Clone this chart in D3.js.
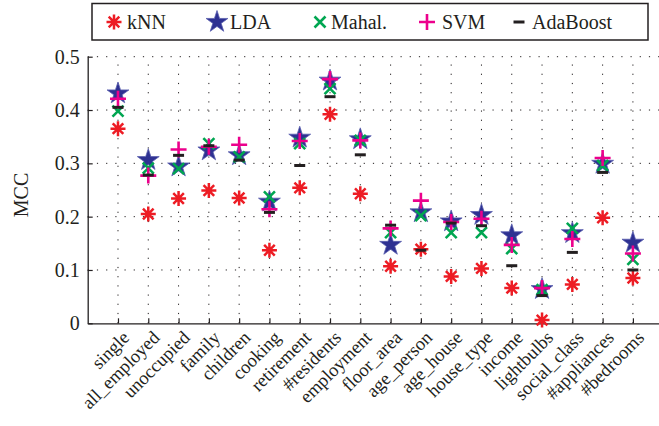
<!DOCTYPE html>
<html>
<head>
<meta charset="utf-8">
<script src="https://cdn.jsdelivr.net/npm/d3@7"></script>
<style>
  html, body { margin: 0; padding: 0; background: #fff; }
  svg { display: block; }
  text { font-family: "Liberation Serif", "Times New Roman", serif; fill: #231f20; }
</style>
</head>
<body>
<svg id="chart" width="659" height="426"></svg>
<script>
// Feature groups evaluated by each classifier
const categories = ["single", "all_employed", "unoccupied", "family", "children", "cooking",
  "retirement", "#residents", "employment", "floor_area", "age_person", "age_house",
  "house_type", "income", "lightbulbs", "social_class", "#appliances", "#bedrooms"];

// MCC per classifier, one value per feature group
const knn      = [0.365, 0.205, 0.234, 0.249, 0.235, 0.137, 0.254, 0.392, 0.243, 0.107, 0.139, 0.088, 0.103, 0.066, 0.006, 0.073, 0.198, 0.085];
const lda      = [0.431, 0.306, 0.294, 0.324, 0.315, 0.228, 0.348, 0.455, 0.345, 0.147, 0.208, 0.191, 0.203, 0.165, 0.064, 0.169, 0.299, 0.151];
const mahal    = [0.398, 0.291, 0.290, 0.337, 0.312, 0.237, 0.337, 0.440, 0.343, 0.170, 0.202, 0.170, 0.170, 0.140, 0.063, 0.178, 0.296, 0.120];
const svm      = [0.421, 0.277, 0.326, 0.331, 0.335, 0.214, 0.342, 0.458, 0.343, 0.178, 0.230, 0.190, 0.196, 0.147, 0.066, 0.158, 0.310, 0.131];
const adaboost = [0.405, 0.278, 0.315, 0.333, 0.306, 0.208, 0.296, 0.425, 0.316, 0.184, 0.137, 0.188, 0.183, 0.108, 0.052, 0.133, 0.283, 0.100];

const yTicks = [0, 0.1, 0.2, 0.3, 0.4, 0.5];
const yLabel = "MCC";

const seriesNames = ["kNN", "LDA", "Mahal.", "SVM", "AdaBoost"];
const seriesValues = [knn, lda, mahal, svm, adaboost];

// Marker glyphs, drawn around the origin
const markers = {
  asterisk: { color: "#ed1c24", width: 2.5, fill: "none",
    path: r => { const p = d3.path(); const q = r * Math.SQRT1_2;
      p.moveTo(-r, 0); p.lineTo(r, 0); p.moveTo(0, -r); p.lineTo(0, r);
      p.moveTo(-q, -q); p.lineTo(q, q); p.moveTo(-q, q); p.lineTo(q, -q); return p.toString(); }, r: 7.5 },
  star: { color: "#5b5fae", width: 0.8, fill: "#2e3192",
    path: r => d3.symbol(d3.symbolStar, r * r / 0.8908130915292852)(), r: 11.5 },
  cross: { color: "#00a651", width: 2.6, fill: "none",
    path: r => { const p = d3.path(); p.moveTo(-r, -r); p.lineTo(r, r); p.moveTo(-r, r); p.lineTo(r, -r); return p.toString(); }, r: 5.5 },
  plus: { color: "#ec008c", width: 2.6, fill: "none",
    path: r => { const p = d3.path(); p.moveTo(-r, 0); p.lineTo(r, 0); p.moveTo(0, -r); p.lineTo(0, r); return p.toString(); }, r: 8 },
  dash: { color: "#231f20", width: 3, fill: "none",
    path: r => { const p = d3.path(); p.moveTo(-r, 0); p.lineTo(r, 0); return p.toString(); }, r: 5.5 }
};
const seriesMarker = ["asterisk", "star", "cross", "plus", "dash"];

const svg = d3.select("#chart");

const x = d3.scaleLinear().domain([0, categories.length + 1]).range([87.7, 663.2]);
const y = d3.scaleLinear().domain([0, 0.5]).range([323.3, 56.7]);
const xTicks = d3.range(1, categories.length + 1);

// dotted grid
const grid = svg.append("g").attr("stroke", "#231f20").attr("stroke-width", 1)
  .attr("stroke-dasharray", "1.2 8");
grid.selectAll("line.h").data(yTicks.filter(d => d > 0)).join("line")
  .attr("x1", x(0)).attr("x2", 659).attr("y1", d => y(d)).attr("y2", d => y(d));
grid.selectAll("line.v").data(xTicks).join("line")
  .attr("x1", d => x(d)).attr("x2", d => x(d)).attr("y1", y(0)).attr("y2", y(0.5));

// axes
const yAxis = d3.axisLeft(y).tickValues(yTicks).tickSizeInner(-5).tickSizeOuter(0).tickPadding(8)
  .tickFormat(d => d === 0 ? "0" : d3.format(".1f")(d));
const gy = svg.append("g").attr("transform", `translate(${x(0)},0)`).call(yAxis);
gy.select(".domain").attr("stroke", "#231f20").attr("stroke-width", 1.3);
gy.selectAll(".tick line").attr("stroke", "#231f20").attr("stroke-width", 1.2);
gy.selectAll(".tick text").style("font-family", "Liberation Serif").style("font-size", "20px").attr("fill", "#231f20");

const xAxis = d3.axisBottom(x).tickValues(xTicks).tickSizeInner(-5).tickSizeOuter(0).tickFormat(() => "");
const gx = svg.append("g").attr("transform", `translate(0,${y(0)})`).call(xAxis);
gx.select(".domain").attr("stroke", "#231f20").attr("stroke-width", 1.3);
gx.selectAll(".tick line").attr("stroke", "#231f20").attr("stroke-width", 1.2);

// rotated category labels
svg.append("g").selectAll("text").data(categories).join("text")
  .attr("transform", (d, i) => `translate(${x(i + 1) + 3},${y(0) + 6}) rotate(-45)`)
  .attr("text-anchor", "end").attr("dy", "0.72em")
  .style("font-size", "18.5px").text(d => d);

svg.append("text").attr("transform", `translate(28,${(y(0) + y(0.5)) / 2 + 5}) rotate(-90)`)
  .attr("text-anchor", "middle").style("font-size", "20px").text(yLabel);

// markers
seriesValues.forEach((vals, s) => {
  const m = markers[seriesMarker[s]];
  svg.append("g").selectAll("path").data(vals).join("path")
    .attr("d", m.path(m.r))
    .attr("transform", (d, i) => `translate(${x(i + 1)},${y(d)})`)
    .attr("fill", m.fill).attr("stroke", m.color).attr("stroke-width", m.width);
});

// legend
const legend = svg.append("g");
legend.append("rect").attr("x", 92).attr("y", 3.5).attr("width", 556).attr("height", 36.5)
  .attr("fill", "#fff").attr("stroke", "#231f20").attr("stroke-width", 1.5);
const legendMarkerX = [114, 217, 320, 427, 519];
const legendTextX = [127, 230, 331, 442, 532];
seriesNames.forEach((name, s) => {
  const m = markers[seriesMarker[s]];
  legend.append("path").attr("d", m.path(m.r)).attr("transform", `translate(${legendMarkerX[s]},22)`)
    .attr("fill", m.fill).attr("stroke", m.color).attr("stroke-width", m.width);
  legend.append("text").attr("x", legendTextX[s]).attr("y", 22).attr("dy", "0.35em")
    .style("font-size", "20px").text(name);
});
</script>
</body>
</html>
